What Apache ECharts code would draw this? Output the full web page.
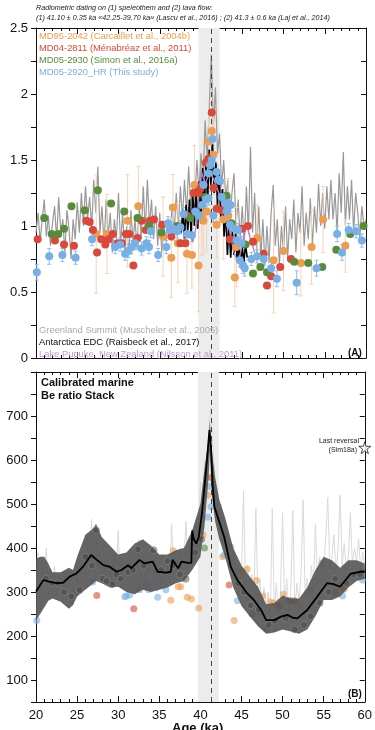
<!DOCTYPE html>
<html>
<head>
<meta charset="utf-8">
<script src="https://cdn.jsdelivr.net/npm/echarts@6/dist/echarts.min.js"></script>
<style>
  html, body { margin: 0; padding: 0; background: #fff; }
  #chart { width: 375px; height: 730px; }
</style>
</head>
<body>
<div id="chart"></div>
<script>
// ---------- panel A : normalised records ----------
var gisStart = 20, gisStep = 0.25; // Greenland Summit, one value every 0.25 ka
var gisValues = [
  0.95, 1.10, 0.88, 1.05, 1.20, 0.92, 1.08, 0.85, 1.02, 1.15, 0.90, 1.22,
  0.95, 1.05, 0.80, 1.12, 0.98, 0.75, 1.05, 0.90, 1.18, 0.95, 1.25, 1.00,
  1.30, 1.05, 1.22, 0.98, 1.35, 1.10, 1.45, 0.95, 1.15, 0.85, 1.20, 0.92,
  1.10, 0.80, 1.05, 0.90, 1.25, 0.85, 1.10, 0.80, 1.00, 0.78, 1.12, 0.88,
  1.05, 0.82, 1.18, 0.90, 1.30, 0.95, 1.35, 1.00, 1.20, 0.90, 1.15, 0.85,
  1.10, 0.80, 1.00, 0.88, 1.05, 0.92, 1.15, 0.95, 1.25, 0.98, 1.30, 1.05,
  1.35, 1.10, 1.45, 1.15, 1.30, 1.20, 1.50, 1.25, 1.55, 1.35, 1.80, 1.50,
  1.90, 2.30, 1.75, 2.05, 1.55, 1.70, 1.30, 1.50, 1.20, 1.35, 1.05, 1.25,
  1.40, 1.00, 1.20, 0.90, 1.15, 0.85, 1.30, 0.95, 1.60, 0.95, 1.25, 0.80,
  1.15, 0.75, 1.05, 0.70, 1.00, 0.72, 1.10, 1.31, 0.85, 1.05, 0.70, 1.00,
  0.80, 1.15, 0.75, 1.05, 0.90, 1.20, 0.80, 1.10, 0.95, 1.30, 0.85, 1.10,
  0.90, 1.21, 0.85, 1.15, 0.95, 1.32, 1.00, 1.25, 0.98, 1.30, 1.05, 1.35,
  1.05, 1.25, 0.95, 1.40, 1.10, 1.56, 1.00, 1.30, 1.05, 1.35, 0.95, 1.25,
  1.10, 0.90, 1.15, 1.00, 1.05
];
var edcAge = [37.6, 37.8, 38.0, 38.2, 38.4, 38.6, 38.8, 39.0, 39.2, 39.4, 39.6, 39.8,
  40.0, 40.2, 40.4, 40.6, 40.8, 41.0, 41.2, 41.4, 41.6, 41.8, 42.0, 42.2, 42.4, 42.6,
  42.8, 43.0, 43.2, 43.4, 43.6, 43.8, 44.0, 44.2, 44.4, 44.6, 44.8, 45.0, 45.2, 45.4, 45.6];
var edcValues = [0.95, 1.12, 0.90, 1.16, 0.96, 1.20, 0.93, 1.24, 1.00, 1.30, 0.98, 1.34,
  1.02, 1.44, 1.12, 1.50, 1.18, 1.58, 1.30, 1.62, 1.25, 1.48, 1.16, 1.40, 1.06, 1.28,
  0.92, 1.12, 0.78, 1.02, 0.76, 0.96, 0.78, 0.94, 0.73, 0.86, 0.70, 0.84, 0.73, 0.86, 0.76];
var pupukeAge = [38.0, 38.5, 39.0, 39.5, 39.8, 40.0, 40.5, 41.0, 41.5, 42.0, 42.5, 43.0,
  43.5, 44.0, 44.5, 45.0, 45.5, 46.0, 46.5];
var pupukeValues = [0.90, 0.96, 0.88, 1.02, 1.28, 1.42, 1.32, 1.40, 1.36, 1.28, 1.18, 1.10,
  0.95, 0.80, 0.72, 0.86, 1.02, 0.90, 0.80];

// [age ka, value, error]
var md95 = [[27.3, 0.94, 0.45], [28.6, 0.94, 0.3], [31.1, 1.04, 0.35], [32.4, 1.15, 0.3],
  [35.4, 0.92, 0.3], [36.4, 0.76, 0.3], [36.6, 1.14, 0.25], [37.2, 0.87, 0.3],
  [38.3, 0.79, 0.3], [38.9, 0.78, 0.25], [39.2, 1.31, 0.3], [39.7, 0.70, 0.35],
  [40.1, 1.08, 0.3], [40.3, 1.04, 0.25], [40.7, 1.11, 0.3], [40.9, 1.64, 0.3],
  [41.3, 1.72, 0.3], [41.5, 1.54, 0.3], [41.9, 1.01, 0.25], [42.7, 1.05, 0.3],
  [43.3, 1.08, 0.28], [44.1, 0.61, 0.22], [44.3, 0.84, 0.3], [46.8, 0.91, 0.25],
  [48.8, 0.74, 0.4], [50.0, 0.81, 0.3], [52.1, 0.72, 0.25], [53.4, 0.84, 0.28],
  [54.8, 1.05, 0.25], [57.5, 0.85, 0.2]];
var md04 = [[20.2, 0.90], [22.3, 0.89], [23.4, 0.86], [24.6, 0.85], [26.1, 1.04], [26.5, 1.03],
  [26.9, 0.97], [27.4, 0.80], [27.9, 0.90], [28.4, 0.86], [28.8, 0.90], [29.3, 0.94],
  [29.9, 0.87], [30.4, 0.87], [30.9, 0.94], [31.3, 0.94], [31.8, 0.70], [32.3, 0.91],
  [32.8, 1.04], [33.3, 0.97], [33.8, 1.04], [34.3, 1.05], [35.3, 1.01], [36.4, 0.92],
  [37.5, 0.87], [38.1, 0.87], [38.3, 1.08], [39.1, 1.25], [39.7, 1.25], [39.9, 1.28],
  [40.6, 1.48], [40.9, 1.51], [41.3, 1.86], [41.5, 1.29], [41.9, 1.13], [42.5, 1.12],
  [43.5, 0.90], [45.0, 0.98], [45.7, 1.00], [46.3, 0.88], [47.6, 0.79], [48.0, 0.55],
  [48.5, 0.62], [49.6, 0.69], [50.9, 0.75]];
var md0530 = [[21.0, 1.06], [21.9, 0.94], [22.7, 0.94], [23.4, 0.98], [24.3, 1.15], [25.9, 1.12],
  [27.5, 1.27], [29.1, 1.17], [30.7, 1.11], [32.3, 1.06], [33.7, 1.00], [35.2, 0.95],
  [37.1, 1.00], [38.7, 1.06], [39.5, 1.10], [40.5, 1.22], [43.1, 1.23], [43.7, 1.02],
  [45.4, 0.86], [46.3, 0.64], [47.2, 0.69], [48.0, 0.65], [51.3, 0.73], [53.0, 0.72],
  [54.7, 0.69], [56.4, 0.82], [58.1, 0.94], [59.7, 1.00]];
var md0520 = [[20.1, 0.65, 0.06], [21.6, 0.77, 0.06], [23.2, 0.78, 0.05], [24.8, 0.76, 0.05],
  [26.8, 0.90, 0.05], [29.6, 0.84, 0.05], [30.2, 0.86, 0.05], [30.8, 0.79, 0.05],
  [31.2, 0.81, 0.05], [31.6, 0.84, 0.05], [32.0, 0.87, 0.05], [32.8, 0.83, 0.05],
  [33.4, 0.87, 0.05], [33.7, 0.84, 0.05], [33.9, 0.96, 0.05], [34.8, 0.78, 0.05],
  [35.8, 0.84, 0.05], [36.0, 1.02, 0.05], [36.2, 0.97, 0.05], [36.6, 0.98, 0.05],
  [37.1, 0.96, 0.05], [37.5, 0.99, 0.05], [37.9, 1.09, 0.05], [38.3, 0.94, 0.05],
  [38.9, 0.93, 0.05], [39.3, 1.11, 0.05], [39.7, 1.08, 0.05], [40.1, 1.16, 0.05],
  [40.3, 1.31, 0.05], [40.6, 1.20, 0.05], [40.9, 1.21, 0.05], [40.9, 1.40, 0.05],
  [41.1, 1.46, 0.05], [41.3, 1.50, 0.05], [41.4, 1.66, 0.05], [41.5, 1.08, 0.05],
  [41.9, 1.41, 0.05], [42.1, 1.35, 0.05], [42.3, 1.34, 0.05], [42.5, 1.22, 0.05],
  [42.9, 1.17, 0.05], [43.1, 1.11, 0.05], [43.3, 1.17, 0.05], [43.6, 1.16, 0.05],
  [43.5, 1.01, 0.05], [44.1, 0.98, 0.05], [44.3, 0.89, 0.05], [44.5, 0.97, 0.05],
  [44.7, 0.74, 0.05], [44.9, 0.87, 0.05], [45.1, 0.70, 0.06], [45.3, 0.68, 0.06],
  [46.1, 0.75, 0.05], [46.8, 0.77, 0.05], [47.6, 0.75, 0.05], [48.5, 0.68, 0.06],
  [49.2, 0.60, 0.06], [51.6, 0.57, 0.09], [54.0, 0.68, 0.06], [56.5, 0.94, 0.06],
  [57.1, 0.80, 0.06], [57.9, 0.97, 0.05], [58.8, 0.96, 0.05], [59.5, 0.89, 0.05]];

// ---------- panel B : calibrated stack ----------
var bgStart = 20, bgStep = 0.25; // light grey record in panel B
var bgValues = [
  300, 390, 250, 360, 330, 400, 290, 350, 310, 360, 290, 340, 320, 280, 350, 300,
  330, 270, 310, 290, 340, 300, 380, 320, 360, 420, 340, 465, 380, 440, 350, 400,
  340, 410, 320, 380, 350, 310, 390, 330, 440, 320, 380, 310, 370, 330, 400, 310,
  380, 340, 420, 330, 390, 320, 370, 340, 400, 330, 360, 300, 350, 310, 380, 330,
  360, 320, 455, 340, 380, 330, 400, 350, 370, 460, 360, 420, 400, 370, 450, 420,
  550, 480, 600, 560, 650, 720, 640, 560, 520, 470, 500, 430, 460, 400, 420, 360,
  380, 330, 360, 310, 340, 530, 290, 360, 300, 340, 270, 490, 280, 330, 250, 310,
  260, 300, 240, 490, 260, 320, 240, 300, 480, 270, 330, 250, 300, 485, 260, 320,
  280, 340, 510, 290, 330, 280, 360, 310, 455, 320, 380, 340, 360, 420, 515, 350,
  380, 430, 340, 400, 520, 360, 410, 350, 380, 480, 360, 400, 370, 420, 350, 390,
  360
];
var stackAge = [20, 20.9, 21.7, 22.5, 23.3, 24.1, 24.9, 25.7, 26.7, 27.4, 28.2, 29, 29.8,
  30.4, 31.2, 31.6, 32.6, 33.2, 34.2, 34.8, 35.8, 36.4, 36.6, 37.3, 37.7, 38.5, 38.9,
  39.0, 39.2, 39.5, 39.8, 40.2, 40.5, 40.8, 41.1, 41.3, 41.5, 41.7, 42.1, 42.9, 43.7,
  44.5, 45.7, 46.5, 47.4, 48.0, 49.0, 49.8, 50.6, 51.2, 51.8, 53.0, 54.2, 55.4, 56.2,
  57.0, 58.3, 59.5, 60];
var stackMean = [301, 327, 323, 320, 321, 335, 342, 357, 384, 373, 361, 357, 346,
  350, 361, 354, 373, 365, 369, 346, 344, 346, 373, 354, 369, 366, 366,
  440, 420, 410, 425, 480, 540, 600, 668, 625, 540, 494, 471, 425, 357,
  327, 297, 282, 259, 236, 236, 244, 248, 242, 240, 259, 289, 320, 318,
  312, 342, 346, 346];
var bandAge = [20, 20.5, 21, 21.5, 22, 23, 24, 24.5, 25, 26, 27, 27.3, 28, 29, 30, 31, 32,
  33, 34, 35, 36, 37, 38, 39, 40, 40.5, 41, 41.15, 41.4, 41.8, 42.3, 43, 44, 45, 46, 47,
  48, 49, 50, 51, 52, 53, 54, 55, 56, 57, 58, 59, 60];
var bandUpper = [375, 380, 380, 365, 345, 345, 355, 350, 380, 430, 445, 455, 425, 405,
  385, 390, 410, 420, 405, 385, 385, 395, 400, 440, 500, 580, 650, 690, 620, 560, 510,
  470, 400, 360, 335, 312, 272, 275, 292, 285, 285, 310, 350, 380, 372, 355, 372, 372, 365];
var bandLower = [235, 250, 265, 280, 285, 278, 262, 270, 290, 305, 320, 325, 320, 310,
  312, 300, 295, 305, 300, 305, 310, 320, 325, 350, 380, 450, 560, 620, 520, 460, 420,
  380, 310, 268, 245, 222, 205, 208, 215, 210, 205, 215, 245, 282, 282, 290, 310, 325, 330];
var stackDots = [[21.2, 330], [22.0, 320], [22.6, 320], [23.4, 300], [24.3, 290], [25.3, 305],
  [26.0, 380], [26.8, 360], [27.3, 440], [28.1, 330], [28.6, 325], [29.3, 318], [29.8, 340],
  [30.3, 330], [31.2, 345], [31.8, 350], [32.4, 397], [33.1, 360], [34.3, 395], [35.2, 350],
  [36.0, 370], [36.6, 360], [37.5, 340], [38.2, 330], [39.4, 390], [40.1, 420], [44.6, 320],
  [45.3, 300], [46.1, 270], [47.1, 260], [48.3, 225], [49.1, 235], [50.4, 240], [51.5, 215],
  [52.6, 225], [53.4, 245], [54.5, 275], [55.6, 300], [56.4, 330], [57.8, 320], [58.6, 340],
  [59.4, 340]];
var bOrange = [[36.7, 394], [37.3, 312], [37.6, 312], [36.4, 281], [38.4, 288], [38.9, 284],
  [39.8, 263], [40.3, 430], [40.9, 520], [42.7, 380], [44.1, 235], [45.1, 348], [45.7, 352],
  [46.8, 326], [47.6, 291], [48.5, 277], [48.9, 275], [50.1, 295], [52.1, 270], [53.4, 305],
  [54.8, 366], [57.5, 306]];
var bRed = [[27.4, 292], [31.9, 262], [41.3, 560], [43.5, 316], [48.0, 218], [49.6, 268], [50.9, 280]];
var bGreen = [[40.5, 400], [46.3, 250], [47.2, 255], [51.4, 280], [56.4, 298]];
var bBlue = [[20.1, 235], [26.9, 323], [30.8, 289], [31.0, 291], [31.4, 293], [32.6, 305],
  [33.4, 316], [33.7, 305], [34.8, 288], [35.8, 305], [40.9, 470], [41.1, 540], [41.3, 494],
  [42.9, 384], [43.7, 402], [44.5, 280], [57.3, 291], [59.7, 327]];
var reversal = [[60, 628]];

var speleoBand = [39.7, 42.25];
var lavaAge = 41.3;

var FONT = '"Liberation Sans", Arial, Helvetica, sans-serif';
var C = { orange: '#eb9d52', red: '#d8483b', green: '#5a8b3c', blue: '#78b0e6',
  purple: '#b57ecb', gis: '#999999' };

function seq(start, step, vals) {
  return vals.map(function (v, i) { return [start + i * step, v]; });
}
function pairs(xs, ys) {
  return xs.map(function (x, i) { return [x, ys[i]]; });
}

function errorBars(color, cap) {
  return function (params, api) {
    var x = api.value(0), y = api.value(1), e = api.value(2);
    var hi = api.coord([x, y + e]);
    var lo = api.coord([x, y - e]);
    var st = { stroke: color, lineWidth: 1 };
    return { type: 'group', children: [
      { type: 'line', shape: { x1: hi[0], y1: hi[1], x2: lo[0], y2: lo[1] }, style: st },
      { type: 'line', shape: { x1: hi[0] - cap, y1: hi[1], x2: hi[0] + cap, y2: hi[1] }, style: st },
      { type: 'line', shape: { x1: lo[0] - cap, y1: lo[1], x2: lo[0] + cap, y2: lo[1] }, style: st }
    ] };
  };
}

function xAxis(grid, pos, labels) {
  return {
    type: 'value', gridIndex: grid, position: pos, min: 20, max: 60, interval: 5,
    axisLine: { onZero: false, lineStyle: { color: '#111', width: 1 } },
    axisTick: { inside: true, length: 6, lineStyle: { color: '#111' } },
    minorTick: { show: true, splitNumber: 5, length: 3, lineStyle: { color: '#111' } },
    axisLabel: { show: labels, color: '#111', fontSize: 13, fontFamily: FONT, margin: 7 },
    splitLine: { show: false }
  };
}
function yAxis(grid, pos, min, max, step, fmt) {
  var left = pos === 'left';
  return {
    type: 'value', gridIndex: grid, position: pos, min: min, max: max, interval: step,
    axisLine: { show: true, onZero: false, lineStyle: { color: '#111', width: 1 } },
    axisTick: { show: true, inside: !left, length: 5, lineStyle: { color: '#111' } },
    axisLabel: { show: left, color: '#111', fontSize: 13, fontFamily: FONT, margin: 8, formatter: fmt },
    splitLine: { show: false }
  };
}
var fmtA = function (v) { return (Math.abs(v * 2 - Math.round(v * 2)) < 1e-6) ? String(v) : ''; };
var fmtB = function (v) { return (v % 100 === 0 && v >= 100 && v <= 700) ? String(v) : ''; };

function bandSeries(xi, yi) {
  return {
    type: 'line', xAxisIndex: xi, yAxisIndex: yi, data: [], z: 1, silent: true,
    markArea: { silent: true, itemStyle: { color: '#ececec' },
      data: [[{ xAxis: speleoBand[0] }, { xAxis: speleoBand[1] }]] }
  };
}
function lavaSeries(xi, yi) {
  return {
    type: 'line', xAxisIndex: xi, yAxisIndex: yi, data: [], z: 20, silent: true,
    markLine: { silent: true, symbol: 'none', label: { show: false },
      lineStyle: { color: '#444', type: [5, 4], width: 1 },
      data: [{ xAxis: lavaAge }] }
  };
}
function dots(xi, yi, data, color, size, z, opacity) {
  return { type: 'scatter', xAxisIndex: xi, yAxisIndex: yi, data: data, symbolSize: size, z: z,
    itemStyle: { color: color, opacity: opacity == null ? 1 : opacity } };
}

function txt(left, top, text, size, color, extra) {
  var s = { text: text, fontSize: size, fill: color, fontFamily: FONT };
  for (var k in extra) s[k] = extra[k];
  return { type: 'text', left: left, top: top, style: s, z: 100 };
}

var chart = echarts.init(document.getElementById('chart'));
chart.setOption({
  animation: false,
  backgroundColor: '#fff',
  grid: [
    { left: 36, top: 28, width: 330, height: 330 },
    { left: 36, top: 372, width: 330, height: 330 }
  ],
  xAxis: [xAxis(0, 'bottom', false), xAxis(0, 'top', false), xAxis(1, 'bottom', true), xAxis(1, 'top', false)],
  yAxis: [yAxis(0, 'left', 0, 2.5, 0.25, fmtA), yAxis(0, 'right', 0, 2.5, 0.25, fmtA),
    yAxis(1, 'left', 50, 800, 50, fmtB), yAxis(1, 'right', 50, 800, 50, fmtB)],
  series: [
    // panel A
    bandSeries(0, 0),
    { type: 'line', xAxisIndex: 0, yAxisIndex: 0, data: seq(gisStart, gisStep, gisValues), z: 2,
      showSymbol: false, lineStyle: { color: C.gis, width: 1.2 } },
    { type: 'custom', xAxisIndex: 0, yAxisIndex: 0, data: md95, z: 3, encode: { x: 0, y: 1 },
      renderItem: errorBars('#f6d3b3', 2) },
    { type: 'custom', xAxisIndex: 0, yAxisIndex: 0, data: md0520, z: 3, encode: { x: 0, y: 1 },
      renderItem: errorBars('#8dbde9', 2) },
    { type: 'line', xAxisIndex: 0, yAxisIndex: 0, data: pairs(edcAge, edcValues), z: 4,
      showSymbol: false, lineStyle: { color: '#000', width: 1.6 } },
    { type: 'line', xAxisIndex: 0, yAxisIndex: 0, data: pairs(pupukeAge, pupukeValues), z: 4,
      showSymbol: false, lineStyle: { color: C.purple, width: 1.4 } },
    dots(0, 0, md95.map(function (d) { return [d[0], d[1]]; }), C.orange, 8, 5),
    dots(0, 0, md04, C.red, 8, 6),
    dots(0, 0, md0530, C.green, 8, 7),
    dots(0, 0, md0520.map(function (d) { return [d[0], d[1]]; }), C.blue, 8, 8),
    lavaSeries(0, 0),
    // panel B
    bandSeries(2, 2),
    { type: 'line', xAxisIndex: 2, yAxisIndex: 2, data: seq(bgStart, bgStep, bgValues), z: 2,
      showSymbol: false, lineStyle: { color: '#dadada', width: 1 } },
    dots(2, 2, bOrange, C.orange, 7, 3, 0.6),
    dots(2, 2, bRed, C.red, 7, 3, 0.6),
    dots(2, 2, bGreen, C.green, 7, 3, 0.6),
    dots(2, 2, bBlue, C.blue, 7, 3, 0.6),
    { type: 'custom', xAxisIndex: 2, yAxisIndex: 2, data: [[40, 400]], z: 4, encode: { x: 0, y: 1 },
      renderItem: function (params, api) {
        var pts = [], i;
        for (i = 0; i < bandAge.length; i++) pts.push(api.coord([bandAge[i], bandUpper[i]]));
        for (i = bandAge.length - 1; i >= 0; i--) pts.push(api.coord([bandAge[i], bandLower[i]]));
        return { type: 'polygon', shape: { points: pts }, style: { fill: 'rgba(84,84,84,0.9)' } };
      } },
    { type: 'scatter', xAxisIndex: 2, yAxisIndex: 2, data: stackDots, symbolSize: 7, z: 5,
      itemStyle: { color: 'rgba(70,70,70,0.6)', borderColor: 'rgba(135,135,135,0.8)', borderWidth: 1 } },
    { type: 'line', xAxisIndex: 2, yAxisIndex: 2, data: pairs(stackAge, stackMean), z: 6,
      showSymbol: false, lineStyle: { color: '#000', width: 1.8 } },
    lavaSeries(2, 2),
    { type: 'scatter', xAxisIndex: 2, yAxisIndex: 2, data: reversal, clip: false, z: 30,
      symbol: 'path://M50,0 L61,35 L98,35 L68,57 L79,91 L50,70 L21,91 L32,57 L2,35 L39,35 Z',
      symbolSize: 12, itemStyle: { color: '#fff', borderColor: '#222', borderWidth: 1 } }
  ],
  graphic: [
    txt(36, 4, 'Radiometric dating on (1) speleothem and (2) lava flow:', 7.2, '#222', { fontStyle: 'italic' }),
    txt(36, 14, '(1) 41.10 \u00b1 0.35 ka \u00ab42.25-39.70 ka\u00bb (Lascu et al., 2016) ; (2) 41.3 \u00b1 0.6 ka (Laj et al., 2014)', 7.2, '#222', { fontStyle: 'italic' }),
    txt(39, 32, 'MD95-2042 (Carcaillet et al., 2004b)', 9.4, C.orange),
    txt(39, 44, 'MD04-2811 (M\u00e9nabr\u00e9az et al., 2011)', 9.4, C.red),
    txt(39, 56, 'MD05-2930 (Simon et al., 2016a)', 9.4, C.green),
    txt(39, 68, 'MD05-2920_HR (This study)', 9.4, C.blue),
    txt(39, 326, 'Greenland Summit (Muscheler et al., 2005)', 9.4, '#aaaaaa'),
    txt(39, 338, 'Antarctica EDC (Raisbeck et al., 2017)', 9.4, '#111'),
    txt(39, 350, 'Lake Pupuke, New Zealand (Nilsson et al., 2011)', 9.4, '#c596d8'),
    txt(348, 348, '(A)', 10, '#111', { fontWeight: 'bold' }),
    txt(41, 377, 'Calibrated marine', 11, '#111', { fontWeight: 'bold' }),
    txt(41, 390, 'Be ratio Stack', 11, '#111', { fontWeight: 'bold' }),
    { type: 'text', right: 16, top: 438, z: 100,
      style: { text: 'Last reversal', fontSize: 7, fill: '#222', fontFamily: FONT, align: 'right' } },
    { type: 'text', right: 18, top: 447, z: 100,
      style: { text: '(Sim18a)', fontSize: 7, fill: '#222', fontFamily: FONT, align: 'right' } },
    txt(348, 689, '(B)', 10, '#111', { fontWeight: 'bold' }),
    txt(172, 722, 'Age (ka)', 13, '#111', { fontWeight: 'bold' })
  ]
});
</script>
</body>
</html>
